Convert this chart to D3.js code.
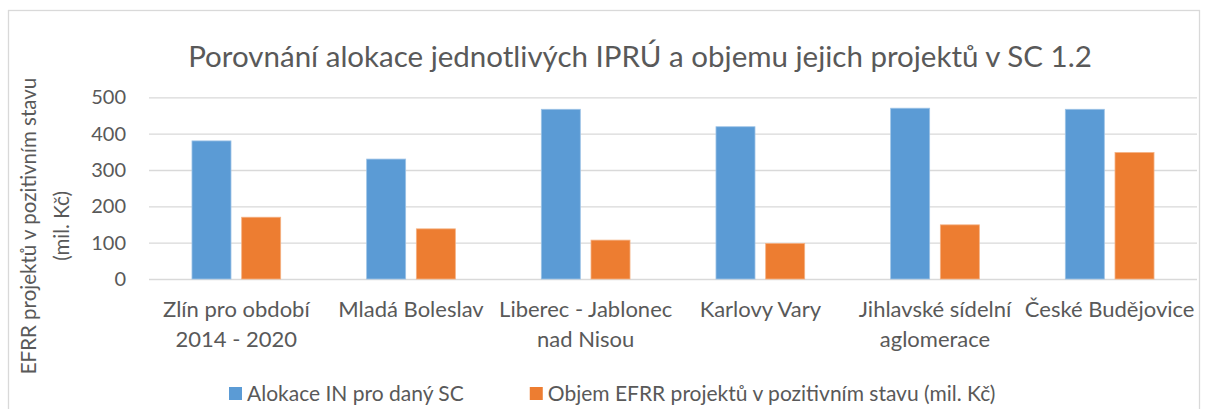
<!DOCTYPE html>
<html>
<head>
<meta charset="utf-8">
<script src="https://cdn.jsdelivr.net/npm/d3@7"></script>
<style>
  body { margin:0; background:#fff; }
  svg text { font-family: Lato, "Open Sans", sans-serif; fill:#595959; }
  .grid line { stroke:#d9d9d9; stroke-width:1.3; }
</style>
</head>
<body>
<svg id="chart"></svg>
<script>
// data
var categories = [
    ["Zlín pro období", "2014 - 2020"],
    ["Mladá Boleslav"],
    ["Liberec - Jablonec", "nad Nisou"],
    ["Karlovy Vary"],
    ["Jihlavské sídelní", "aglomerace"],
    ["České Budějovice"]
];
var alokace = [380, 330, 467, 419, 470, 467];
var objem = [170, 138, 107, 98, 149, 348];
var seriesNames = ["Alokace IN pro daný SC", "Objem EFRR projektů v pozitivním stavu (mil. Kč)"];
var seriesColors = ["#5b9bd5", "#ed7d31"];
var yTicks = [0, 100, 200, 300, 400, 500];
var chartTitle = "Porovnání alokace jednotlivých IPRÚ a objemu jejich projektů v SC 1.2";
var yTitle = ["EFRR projektů v pozitivním stavu", "(mil. Kč)"];

var screen = {width:1208, height:409};
var margins = {left:149, right:11, top:97.3, bottom:130};
var graph = {
    width: screen.width - margins.left - margins.right,
    height: screen.height - margins.top - margins.bottom
};

var svg = d3.select("#chart")
    .attr("width", screen.width)
    .attr("height", screen.height);

// outer frame of the chart (bottom is cut off in the original)
svg.append("rect")
    .attr("x", 8.5).attr("y", 10.5)
    .attr("width", 1191).attr("height", 420)
    .attr("fill", "none")
    .attr("stroke", "#d9d9d9")
    .attr("stroke-width", 1.3);

var catKeys = categories.map(function(c) { return c.join(" "); });

var xScale = d3.scaleBand()
    .domain(catKeys)
    .range([0, graph.width]);

var xInner = d3.scaleBand()
    .domain([0, 1])
    .range([0, xScale.bandwidth()])
    .paddingInner(0.215)
    .paddingOuter(0.865);

var yScale = d3.scaleLinear()
    .domain([0, 500])
    .range([graph.height, 0]);

var target = svg.append("g")
    .attr("transform", "translate(" + margins.left + "," + margins.top + ")");

// gridlines + tick labels
var yAxis = d3.axisLeft(yScale)
    .tickValues(yTicks)
    .tickSize(-graph.width)
    .tickPadding(23);

var ya = target.append("g").classed("grid", true).call(yAxis);
ya.select(".domain").remove();
ya.selectAll("text")
    .style("font-size", "20px")
    .attr("fill", "#595959");

// bars
var rows = catKeys.map(function(k, i) {
    return {key:k, values:[alokace[i], objem[i]]};
});

var groups = target.selectAll("g.cat")
    .data(rows)
    .enter()
    .append("g")
    .classed("cat", true)
    .attr("transform", function(d) { return "translate(" + xScale(d.key) + ",0)"; });

groups.selectAll("rect")
    .data(function(d) { return d.values.map(function(v, s) { return {s:s, v:v}; }); })
    .enter()
    .append("rect")
    .attr("x", function(d) { return xInner(d.s); })
    .attr("y", function(d) { return yScale(d.v); })
    .attr("width", xInner.bandwidth())
    .attr("height", function(d) { return graph.height - yScale(d.v); })
    .attr("fill", function(d) { return seriesColors[d.s]; })
    .attr("stroke", function(d) { return d.s == 0 ? "#9dc3e6" : "#f4b183"; })
    .attr("stroke-width", 0.8);

// category labels
var catLabels = target.selectAll("text.cat")
    .data(categories)
    .enter()
    .append("text")
    .classed("cat", true)
    .attr("text-anchor", "middle")
    .style("font-size", "22px")
    .attr("transform", function(d, i) {
        return "translate(" + (xScale(catKeys[i]) + xScale.bandwidth() / 2) + "," + (graph.height + 37.5) + ")";
    });
catLabels.selectAll("tspan")
    .data(function(d) { return d; })
    .enter()
    .append("tspan")
    .attr("x", 0)
    .attr("y", function(d, i) { return i * 30.5; })
    .text(function(d) { return d; });

// title
svg.append("text")
    .text(chartTitle)
    .attr("text-anchor", "middle")
    .attr("x", 640)
    .attr("y", 67)
    .style("font-size", "29.5px");

// y axis title
var yt = svg.append("g")
    .attr("transform", "translate(29,226) rotate(270)");
yt.selectAll("text")
    .data(yTitle)
    .enter()
    .append("text")
    .attr("text-anchor", "middle")
    .attr("x", 0)
    .attr("y", function(d, i) { return 7 + i * 33; })
    .style("font-size", "20.5px")
    .text(function(d) { return d; });

// legend
var legend = svg.append("g").attr("transform", "translate(229,387)");
var lx = 0;
seriesNames.forEach(function(name, i) {
    var item = legend.append("g").attr("transform", "translate(" + lx + ",0)");
    item.append("rect")
        .attr("width", 13).attr("height", 13)
        .attr("fill", seriesColors[i]);
    var t = item.append("text")
        .attr("x", 18)
        .attr("y", 13.5)
        .style("font-size", "21px")
        .text(name);
    lx += 18 + t.node().getComputedTextLength() + 66;
});
</script>
</body>
</html>
